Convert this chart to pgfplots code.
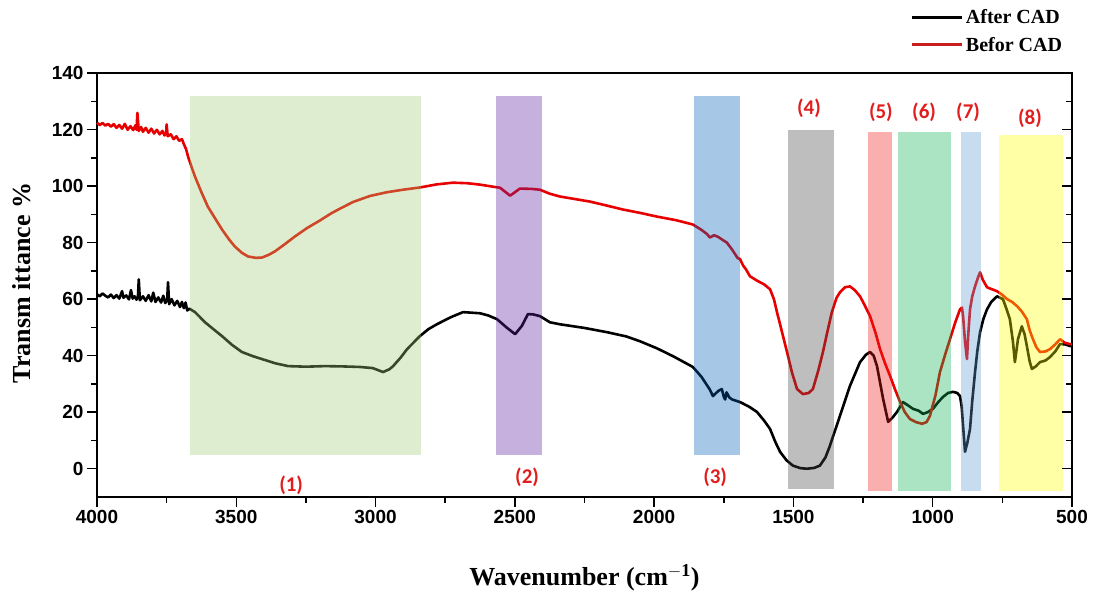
\documentclass[border=0pt]{standalone}
\usepackage{pgfplots}
\pgfplotsset{compat=1.18}
\usepackage{fontspec}
\setmainfont{Liberation Serif}
\setsansfont{Liberation Sans}
\newfontfamily\calfont{Carlito}
\definecolor{curvered}{RGB}{232,0,0}
\definecolor{legred}{RGB}{200,30,30}
\definecolor{labred}{RGB}{225,30,30}
\definecolor{cA}{RGB}{161,204,118}
\definecolor{cB}{RGB}{92,32,161}
\definecolor{cC}{RGB}{0,98,184}
\definecolor{cD}{RGB}{69,69,69}
\definecolor{cE}{RGB}{241,26,26}
\definecolor{cF}{RGB}{12,178,84}
\definecolor{cG}{RGB}{98,155,212}
\definecolor{cH}{RGB}{255,255,0}
\pgfplotstableread{
x y
4000 61.7
3990 61.0
3980 62.0
3970 61.2
3960 60.6
3950 61.6
3940 60.4
3930 61.4
3920 60.2
3910 62.8
3905 60.5
3895 61.3
3885 59.9
3878 63.2
3872 60.2
3865 61.0
3858 59.8
3853 60.8
3850 67.0
3846 59.6
3835 61.0
3825 59.4
3815 61.4
3805 59.2
3798 62.3
3790 59.0
3780 60.6
3770 58.8
3762 61.2
3755 58.6
3748 59.8
3745 66.0
3741 58.2
3732 60.0
3722 57.8
3712 59.4
3702 57.2
3695 59.0
3688 56.8
3682 58.8
3676 56.0
3668 56.6
3648 55.4
3612 51.8
3580 49.2
3551 46.9
3515 43.8
3480 41.3
3440 39.8
3408 38.8
3360 37.3
3314 36.3
3250 36.1
3182 36.3
3120 36.2
3056 36.0
3010 35.6
2973 34.2
2950 35.2
2937 36.3
2910 39.3
2887 42.3
2841 46.9
2810 49.4
2780 51.1
2730 53.6
2686 55.4
2625 55.0
2595 54.2
2564 52.9
2530 50.0
2499 47.6
2475 50.5
2453 54.7
2435 54.6
2410 54.0
2374 51.8
2338 51.1
2250 49.8
2169 48.3
2100 46.8
2051 45.1
1990 42.6
1932 39.8
1861 36.0
1830 32.5
1800 28.0
1789 25.7
1770 27.5
1757 28.2
1750 25.5
1745 24.5
1740 27.0
1730 25.2
1720 24.5
1692 23.6
1660 22.0
1631 20.1
1605 17.0
1584 14.1
1565 9.5
1548 6.0
1525 3.0
1502 1.1
1475 0.2
1451 0
1425 0.3
1405 1.1
1385 4.0
1369 8.1
1333 18.7
1297 29.3
1261 37.7
1240 40.3
1225 41.3
1212 40.0
1200 36.3
1178 24.7
1160 16.6
1145 18.0
1128 20.1
1107 23.6
1090 22.5
1071 21.2
1050 20.5
1035 19.4
1018 20.0
999 21.2
980 23.6
963 25.4
945 26.8
927 27.2
912 26.8
902 25.7
896 22.0
891 15.2
884 6.0
876 9.0
866 14.1
858 24.0
848 34.2
840 41.5
830 48.3
818 53.0
805 56.4
790 59.0
769 61.0
748 60.0
735 56.5
723 52.9
712 45.0
705 37.7
699 42.0
694 45.8
680 50.4
670 47.5
662 43.4
652 38.0
644 35.3
630 36.2
615 37.7
595 38.3
579 39.5
560 41.5
543 44.1
525 44.0
507 43.4
500 43.5
}\after
\pgfplotstableread{
x y
4000 122.4
3990 121.6
3980 122.3
3970 121.4
3960 122.0
3950 121.0
3940 121.9
3930 120.6
3920 121.6
3910 120.3
3900 122.0
3890 119.9
3880 121.2
3870 119.8
3862 121.5
3858 119.9
3855 125.9
3850 119.5
3842 120.9
3835 119.2
3825 120.6
3815 118.9
3805 120.3
3795 118.6
3785 119.9
3775 118.3
3765 119.5
3758 117.9
3752 118.6
3750 121.8
3746 117.6
3735 118.3
3725 116.6
3715 117.6
3705 116.0
3695 116.6
3688 114.8
3680 113.0
3673 110.4
3660 106.6
3648 103.3
3625 97.8
3602 92.7
3575 88.4
3551 84.6
3525 81.0
3505 78.6
3480 76.4
3458 75.1
3430 74.6
3408 74.7
3385 75.6
3361 76.9
3325 79.5
3289 82.2
3245 85.2
3200 87.8
3160 90.3
3128 92.0
3080 94.4
3020 96.5
2960 97.8
2902 98.7
2841 99.5
2780 100.6
2722 101.2
2670 101.0
2625 100.5
2580 99.8
2553 99.4
2535 98.0
2517 96.6
2500 97.8
2482 99.1
2440 99.0
2410 98.7
2375 97.3
2338 96.3
2290 95.5
2230 94.5
2170 93.1
2112 91.7
2050 90.5
1990 89.2
1920 87.9
1861 86.4
1830 84.5
1810 83.0
1800 81.8
1785 82.6
1770 82.0
1755 81.0
1739 80.0
1720 77.5
1700 74.5
1692 74.2
1680 71.8
1670 70.5
1656 68.1
1630 66.5
1605 65.2
1584 63.5
1570 60.0
1559 55.4
1540 48.0
1523 41.3
1505 34.0
1487 28.2
1466 26.4
1445 26.8
1430 28.2
1410 35.0
1394 41.3
1378 48.5
1362 55.4
1345 60.5
1333 62.4
1315 64.2
1297 64.5
1280 63.2
1261 61.0
1245 58.0
1225 54.0
1205 48.0
1189 42.3
1170 37.0
1153 32.8
1135 28.0
1117 23.6
1100 20.0
1082 17.6
1060 16.5
1038 15.9
1022 16.5
1010 18.7
990 26.0
974 34.2
955 40.5
938 45.8
920 51.5
902 56.4
895 57.0
891 54.0
884 45.0
877 38.8
872 48.0
866 56.4
858 61.0
848 64.5
838 67.5
830 69.5
820 66.8
805 64.2
790 63.6
769 62.8
750 61.5
733 60.0
715 59.0
697 57.5
680 55.6
662 52.9
652 49.0
640 45.8
628 43.0
615 41.3
595 41.5
579 42.3
560 44.0
543 45.8
525 44.5
507 44.1
500 44.0
}\before
\begin{document}
\begin{tikzpicture}
\begin{axis}[
  scale only axis, width=975pt, height=424pt,
  xmin=500, xmax=4000, x dir=reverse, ymin=-10, ymax=140,
  xtick={500,1000,...,4000}, minor x tick num=1,
  ytick={0,20,...,140}, minor y tick num=1,
  xtick pos=bottom, ytick pos=left, tick align=outside,
  major tick length=10pt, minor tick length=6pt,
  every tick/.style={black, line width=1.5pt},
  axis line style={line width=1.8pt},
  /pgf/number format/set thousands separator={},
  /pgf/number format/assume math mode=true,
  ticklabel style={font=\fontsize{19}{19}\selectfont\sffamily\bfseries},
  xlabel={Wavenumber (cm$^{\mathbf{-1}}$)},
  ylabel={Transm ittance \%},
  xlabel style={font=\fontsize{26}{26}\selectfont\bfseries, at={(axis description cs:0.5,-0.191)}, anchor=center},
  ylabel style={font=\fontsize{26}{26}\selectfont\bfseries, at={(axis description cs:-0.077,0.505)}, anchor=center},
  clip=false,
  legend style={at={(axis description cs:0.992,1.155)}, anchor=north east, draw=none, fill=none,
    font=\fontsize{20}{20}\selectfont\bfseries, row sep=8pt, inner sep=0pt},
  legend cell align=left,
  legend image code/.code={\draw[#1, line width=3pt] (0pt,0pt) -- (50pt,0pt);},
]
\addplot[black, line width=2.6pt, line join=round] table[x=x,y=y] {\after};
\addlegendentry{After CAD}
\addplot[curvered, line width=2.6pt, line join=round, legend image post style={legred}] table[x=x,y=y] {\before};
\addlegendentry{Befor CAD}
\fill[cA, fill opacity=0.35] (axis cs:3666,5) rectangle (axis cs:2837,132);
\fill[cB, fill opacity=0.35] (axis cs:2568,5) rectangle (axis cs:2403,132);
\fill[cC, fill opacity=0.35] (axis cs:1857,5) rectangle (axis cs:1692,132);
\fill[cD, fill opacity=0.35] (axis cs:1519,-7) rectangle (axis cs:1354,120);
\fill[cE, fill opacity=0.35] (axis cs:1232,-8) rectangle (axis cs:1146,119);
\fill[cF, fill opacity=0.35] (axis cs:1125,-8) rectangle (axis cs:934,119);
\fill[cG, fill opacity=0.35] (axis cs:899,-8) rectangle (axis cs:827,119);
\fill[cH, fill opacity=0.35] (axis cs:762,-8) rectangle (axis cs:532,118);
\begin{scope}[every node/.style={text=labred, font=\fontsize{21}{21}\selectfont\calfont\bfseries}]
\node at (axis cs:3303,-6) {(1)};
\node at (axis cs:2456,-3) {(2)};
\node at (axis cs:1781,-3) {(3)};
\node at (axis cs:1444,127.6) {(4)};
\node at (axis cs:1186,126) {(5)};
\node at (axis cs:1031,126) {(6)};
\node at (axis cs:873,126) {(7)};
\node at (axis cs:651,124) {(8)};
\end{scope}
\end{axis}
\begin{axis}[
  scale only axis, width=975pt, height=424pt,
  xmin=500, xmax=4000, x dir=reverse, ymin=-10, ymax=140,
  xtick=\empty, ytick={0,20,...,140}, minor y tick num=1,
  ytick pos=right, yticklabels={}, tick align=inside,
  major tick length=10pt, minor tick length=6pt,
  every tick/.style={black, line width=1.5pt},
  axis line style={draw=none},
]
\end{axis}
\pgfresetboundingbox
\path[use as bounding box] (-97pt,-104pt) rectangle (996pt,497pt);
\end{tikzpicture}
\end{document}
